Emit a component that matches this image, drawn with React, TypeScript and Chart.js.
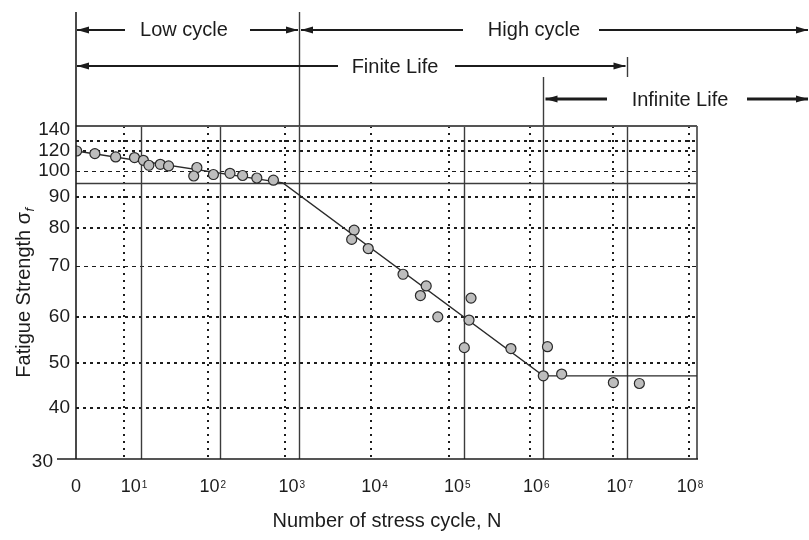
import React, { useEffect, useRef } from 'react';
import { Chart, registerables, LinearScale } from 'chart.js';

Chart.register(...registerables);

// ---------------- data ----------------
// x axis: exponent of the cycle count (0 is drawn as "0", k as 10^k)
const xTickExponents = [0, 1, 2, 3, 4, 5, 6, 7, 8];
const xTickBase = ['0', '10', '10', '10', '10', '10', '10', '10', '10'];
const xTickSup = ['', '1', '2', '3', '4', '5', '6', '7', '8'];
const xGridMajor = [1, 2, 3, 5, 6, 7];
const xGridMinor = [0.74, 1.85, 2.83, 3.87, 4.82, 5.83, 6.83, 7.88];

// y axis: fatigue strength
const yTickValues = [30, 40, 50, 60, 70, 80, 90, 100, 120, 140];
const yGridHeavy = [40, 50, 60, 80, 90, 120, 130];
const yGridLight = [70, 100];
const yGridSolid = [95];

// test points
const testLogN = [0.01, 0.29, 0.61, 0.9, 1.03, 1.1, 1.245, 1.35, 1.71, 1.67, 1.92, 2.13, 2.29, 2.47, 2.68,
  3.67, 3.64, 3.84, 4.26, 4.54, 4.47, 5.085, 4.68, 5.06, 5.0, 5.59, 6.05, 6.0, 6.22, 6.84, 7.18];
const testStrength = [120, 117.3, 113.9, 113.3, 110.5, 105.4, 106.4, 104.7, 103.1, 97.8, 98.4, 98.9, 98.0, 97.0, 96.1,
  79.4, 77.0, 74.6, 68.4, 66.1, 64.2, 63.7, 60.0, 59.3, 53.3, 53.1, 53.5, 47.1, 47.5, 45.6, 45.4];

// S-N curve
const curveLogN = [0, 2.8, 6, 8];
const curveStrength = [120, 95, 47.1, 47.1];

// axis calibration of the (hand-drawn, non uniform) axes: value -> fraction of axis length
const sigmaKnotValues = [30, 40, 50, 60, 70, 80, 90, 95, 100, 120, 130, 140];
const sigmaKnotFractions = [0, 0.1539, 0.2889, 0.4269, 0.5791, 0.694, 0.787, 0.829, 0.8662, 0.925, 0.955, 1];
const cycleKnotValues = [0, 1, 2, 3, 4, 5, 6, 7, 8];
const cycleKnotFractions = [0, 0.1047, 0.2314, 0.3586, 0.4919, 0.6253, 0.7525, 0.8868, 1];

// ---------------- custom calibrated scale ----------------
function interp(v: number, xs: number[], ys: number[]) {
  const n = xs.length;
  if (v <= xs[0]) return ys[0] + ((v - xs[0]) * (ys[1] - ys[0])) / (xs[1] - xs[0]);
  for (let i = 1; i < n; i++) {
    if (v <= xs[i]) {
      const t = (v - xs[i - 1]) / (xs[i] - xs[i - 1]);
      return ys[i - 1] + t * (ys[i] - ys[i - 1]);
    }
  }
  return ys[n - 1] + ((v - xs[n - 1]) * (ys[n - 1] - ys[n - 2])) / (xs[n - 1] - xs[n - 2]);
}

function calibratedScale(scaleId: string, knotValues: number[], knotFractions: number[]) {
  class Calibrated extends LinearScale {
    static id = scaleId;
    buildTicks() {
      return knotValues.map((value) => ({ value }));
    }
    getPixelForValue(value: any) {
      if (value === null || value === undefined || Number.isNaN(value)) return NaN;
      return this.getPixelForDecimal(interp(value, knotValues, knotFractions));
    }
    getValueForPixel(pixel: number) {
      return interp(this.getDecimalForPixel(pixel), knotFractions, knotValues);
    }
  }
  return Calibrated;
}

const SigmaScale = calibratedScale('sigmaScale', sigmaKnotValues, sigmaKnotFractions);
const CycleScale = calibratedScale('cycleScale', cycleKnotValues, cycleKnotFractions);
Chart.register(SigmaScale as any, CycleScale as any);

// ---------------- drawing helpers ----------------
const FONT = '"Liberation Sans", Arial, Helvetica, sans-serif';
const INK = '#1c1c1c';
const GRIDINK = '#3c3c3c';

function seg(ctx: CanvasRenderingContext2D, x1: number, y1: number, x2: number, y2: number) {
  ctx.beginPath();
  ctx.moveTo(x1, y1);
  ctx.lineTo(x2, y2);
  ctx.stroke();
}

function arrowLine(ctx: CanvasRenderingContext2D, xa: number, xb: number, y: number, head: 'left' | 'right', w: number) {
  ctx.lineWidth = w;
  seg(ctx, xa, y, xb, y);
  const tip = head === 'left' ? xa : xb;
  const dir = head === 'left' ? -1 : 1;
  const len = 12;
  const half = 3.5;
  ctx.beginPath();
  ctx.moveTo(tip, y);
  ctx.lineTo(tip - dir * len, y - half);
  ctx.lineTo(tip - dir * len, y + half);
  ctx.closePath();
  ctx.fill();
}

const decorPlugin = {
  id: 'fatigueDecor',
  beforeDatasetsDraw(chart: any) {
    const { ctx, chartArea: a, scales } = chart;
    const xs = scales.x;
    const ys = scales.y;
    ctx.save();
    ctx.lineCap = 'butt';
    // minor vertical dotted
    ctx.strokeStyle = INK;
    ctx.lineWidth = 2;
    ctx.setLineDash([2, 5]);
    for (const v of xGridMinor) {
      const px = Math.round(xs.getPixelForValue(v));
      seg(ctx, px, a.top, px, a.bottom);
    }
    // heavy horizontal dotted
    ctx.setLineDash([3, 4]);
    for (const v of yGridHeavy) {
      const py = Math.round(ys.getPixelForValue(v));
      seg(ctx, a.left, py, a.right, py);
    }
    // light horizontal dashed
    ctx.lineWidth = 1;
    ctx.setLineDash([4, 4]);
    for (const v of yGridLight) {
      const py = Math.round(ys.getPixelForValue(v)) + 0.5;
      seg(ctx, a.left, py, a.right, py);
    }
    // solid grid lines
    ctx.setLineDash([]);
    ctx.strokeStyle = GRIDINK;
    ctx.lineWidth = 1.4;
    for (const v of xGridMajor) {
      const px = Math.round(xs.getPixelForValue(v)) + 0.5;
      seg(ctx, px, a.top, px, a.bottom);
    }
    for (const v of yGridSolid) {
      const py = Math.round(ys.getPixelForValue(v)) + 0.5;
      seg(ctx, a.left, py, a.right, py);
    }
    // frame
    ctx.strokeStyle = '#555';
    ctx.lineWidth = 1.8;
    seg(ctx, a.left, a.top, a.right, a.top);
    seg(ctx, a.right, a.top, a.right, a.bottom);
    ctx.strokeStyle = INK;
    ctx.lineWidth = 1.6;
    seg(ctx, a.left - 19, a.bottom, a.right + 1, a.bottom);
    ctx.restore();
  },
  afterDraw(chart: any) {
    const { ctx, chartArea: a, scales } = chart;
    const xs = scales.x;
    const ys = scales.y;
    ctx.save();
    ctx.fillStyle = INK;
    ctx.strokeStyle = INK;

    // y tick labels
    ctx.font = `19px ${FONT}`;
    ctx.textAlign = 'right';
    ctx.textBaseline = 'middle';
    for (const v of yTickValues) {
      let py = ys.getPixelForValue(v);
      let px = a.left - 6;
      if (v === 140) py += 4;
      if (v === 30) {
        py += 3;
        px = a.left - 23;
      }
      ctx.fillText(String(v), px, py);
    }

    // x tick labels with superscript exponents
    ctx.textBaseline = 'alphabetic';
    ctx.textAlign = 'left';
    xTickExponents.forEach((v, i) => {
      const px = xs.getPixelForValue(v);
      const base = xTickBase[i];
      const sup = xTickSup[i];
      ctx.font = `18px ${FONT}`;
      const wb = ctx.measureText(base).width;
      ctx.font = `10px ${FONT}`;
      const wsup = sup ? ctx.measureText(sup).width + 1 : 0;
      const center = sup ? px - 7 : px;
      const start = center - (wb + wsup) / 2;
      ctx.font = `18px ${FONT}`;
      ctx.fillText(base, start, 492);
      if (sup) {
        ctx.font = `10px ${FONT}`;
        ctx.fillText(sup, start + wb + 1, 488);
      }
    });

    // axis titles
    ctx.font = `20px ${FONT}`;
    ctx.textAlign = 'center';
    ctx.fillText('Number of stress cycle, N', 387, 527);

    ctx.save();
    ctx.translate(30, 293);
    ctx.rotate(-Math.PI / 2);
    ctx.font = `20px ${FONT}`;
    const main = 'Fatigue Strength \u03c3';
    const wm = ctx.measureText(main).width;
    ctx.font = `italic 13px ${FONT}`;
    const wf = ctx.measureText('f').width;
    const startT = -(wm + wf) / 2;
    ctx.textAlign = 'left';
    ctx.font = `20px ${FONT}`;
    ctx.fillText(main, startT, 0);
    ctx.font = `italic 13px ${FONT}`;
    ctx.fillText('f', startT + wm + 0.5, 4);
    ctx.restore();

    // region annotations above the plot
    const x0 = xs.getPixelForValue(0);
    const x3 = Math.round(xs.getPixelForValue(3)) + 0.5;
    const x6 = Math.round(xs.getPixelForValue(6)) + 0.5;
    const x7 = Math.round(xs.getPixelForValue(7)) + 0.5;
    ctx.lineWidth = 1.4;
    ctx.strokeStyle = GRIDINK;
    seg(ctx, x3, 12, x3, a.top);
    seg(ctx, x6, 77, x6, a.top);
    seg(ctx, x7, 57, x7, 77);
    ctx.strokeStyle = INK;
    ctx.lineWidth = 1.6;
    seg(ctx, x0, 12, x0, a.bottom);

    ctx.font = `20px ${FONT}`;
    ctx.textAlign = 'center';
    ctx.textBaseline = 'alphabetic';
    // row 1
    arrowLine(ctx, x0 + 1, 125, 30, 'left', 2);
    ctx.fillText('Low cycle', 184, 36);
    arrowLine(ctx, 250, x3 - 1.5, 30, 'right', 2);
    arrowLine(ctx, x3 + 1.5, 463, 30, 'left', 2);
    ctx.fillText('High cycle', 534, 36);
    arrowLine(ctx, 599, 808, 30, 'right', 2);
    // row 2
    arrowLine(ctx, x0 + 1, 338, 66, 'left', 2);
    ctx.fillText('Finite Life', 395, 73);
    arrowLine(ctx, 455, x7 - 2, 66, 'right', 2);
    // row 3
    arrowLine(ctx, x6 + 2, 607, 99, 'left', 3);
    ctx.fillText('Infinite Life', 680, 106);
    arrowLine(ctx, 747, 808, 99, 'right', 3);

    ctx.restore();
  },
};

export default function App() {
  const ref = useRef<HTMLCanvasElement>(null);
  useEffect(() => {
    document.body.style.margin = '0';
    const canvas = ref.current;
    if (!canvas) return;
    const chart = new Chart(canvas, {
      type: 'line',
      data: {
        datasets: [
          {
            label: 'Test data',
            data: testLogN.map((x, i) => ({ x, y: testStrength[i] })),
            showLine: false,
            pointRadius: 5,
            pointHoverRadius: 5,
            pointBackgroundColor: '#bdbdbd',
            pointBorderColor: '#2a2a2a',
            pointBorderWidth: 1.2,
          },
          {
            label: 'S-N curve',
            data: curveLogN.map((x, i) => ({ x, y: curveStrength[i] })),
            borderColor: '#2a2a2a',
            borderWidth: 1.3,
            pointRadius: 0,
            fill: false,
            tension: 0,
          },
        ],
      },
      options: {
        responsive: false,
        animation: false,
        events: [],
        layout: { padding: { left: 76, top: 126, right: 112, bottom: 81 } },
        plugins: { legend: { display: false }, tooltip: { enabled: false } },
        scales: {
          x: { type: 'cycleScale' as any, min: 0, max: 8, display: false },
          y: { type: 'sigmaScale' as any, min: 30, max: 140, display: false },
        },
      },
      plugins: [decorPlugin],
    });
    return () => chart.destroy();
  }, []);
  return (
    <div style={{ width: 809, height: 540 }}>
      <canvas ref={ref} width={809} height={540} style={{ display: 'block' }} />
    </div>
  );
}
